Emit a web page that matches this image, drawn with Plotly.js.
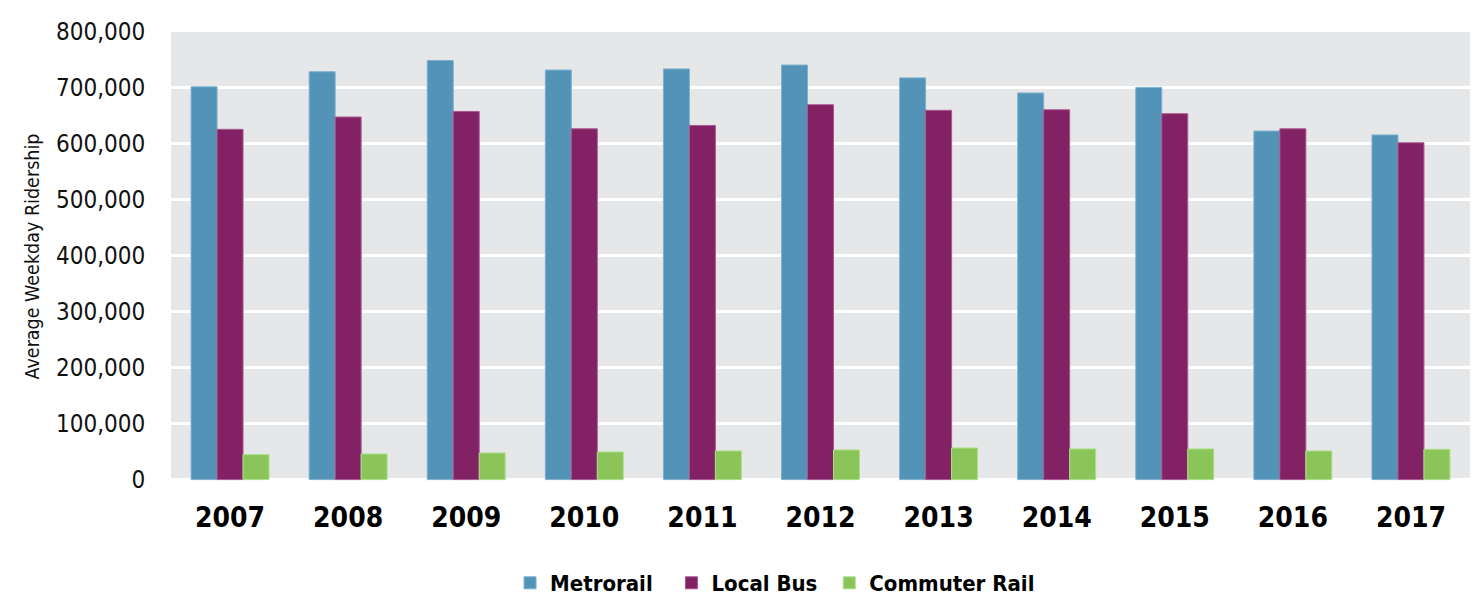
<!DOCTYPE html>
<html>
<head>
<meta charset="utf-8">
<script src="https://cdn.plot.ly/plotly-3.0.1.min.js"></script>
<style>html,body{margin:0;padding:0;background:#fff;}#chart{width:1472px;height:599px;}</style>
</head>
<body>
<div id="chart"></div>
<script>
const years = ['2007','2008','2009','2010','2011','2012','2013','2014','2015','2016','2017'];
const metrorail = [702000, 729000, 749000, 732000, 734000, 741000, 718000, 691000, 701000, 623000, 616000];
const localBus = [626000, 648000, 658000, 627000, 633000, 670000, 660000, 661000, 654000, 627000, 602000];
const commuterRail = [44600, 45800, 47600, 49400, 51200, 53000, 56500, 54800, 54800, 51200, 54200];
const yTicks = [0, 100000, 200000, 300000, 400000, 500000, 600000, 700000, 800000];
const seriesNames = ['Metrorail', 'Local Bus', 'Commuter Rail'];

const FONT = '"DejaVu Sans Condensed", "Liberation Sans Narrow", sans-serif';
const NB = '\u00a0';

const traces = [
  {type:'bar', name:seriesNames[0] + NB + NB, x:years, y:metrorail,
   marker:{color:'#5393b8', line:{color:'#7eb0cd', width:1}}},
  {type:'bar', name:seriesNames[1] + NB, x:years, y:localBus,
   marker:{color:'#832165', line:{color:'#a9588f', width:1}}},
  {type:'bar', name:seriesNames[2], x:years, y:commuterRail,
   marker:{color:'#8bc55a', line:{color:'#ade08a', width:1}}}
];

const layout = {
  width:1472, height:599,
  margin:{l:171, r:2, t:32, b:118, pad:0},
  paper_bgcolor:'#ffffff',
  plot_bgcolor:'#e6e7e9',
  barmode:'group',
  bargap:0.34,
  bargroupgap:0,
  font:{family:FONT, color:'#111'},
  showlegend:true,
  legend:{orientation:'h', x:0.261, xanchor:'left', xref:'paper',
          yref:'container', y:16/599, yanchor:'middle',
          font:{family:FONT, size:22, color:'#000', weight:'bold'},
          itemwidth:30, traceorder:'normal',
          borderwidth:0, bgcolor:'rgba(0,0,0,0)'},
  xaxis:{
    type:'category', automargin:false,
    tickfont:{family:FONT, size:28, color:'#000', weight:'bold'},
    ticks:'outside', ticklen:11, tickcolor:'rgba(0,0,0,0)',
    showgrid:false, zeroline:false, showline:false
  },
  yaxis:{
    range:[-2500, 800000], automargin:false,
    tickvals:yTicks,
    tickformat:',d',
    tickfont:{family:FONT, size:24, color:'#111'},
    ticks:'outside', ticklen:20, tickcolor:'rgba(0,0,0,0)',
    showgrid:true, gridcolor:'#ffffff', gridwidth:3,
    zeroline:false, showline:false,
    title:{text:'Average Weekday Ridership', font:{family:FONT, size:19.5, color:'#111'}, standoff:11}
  }
};

Plotly.newPlot('chart', traces, layout, {displayModeBar:false, staticPlot:true});
</script>
</body>
</html>
